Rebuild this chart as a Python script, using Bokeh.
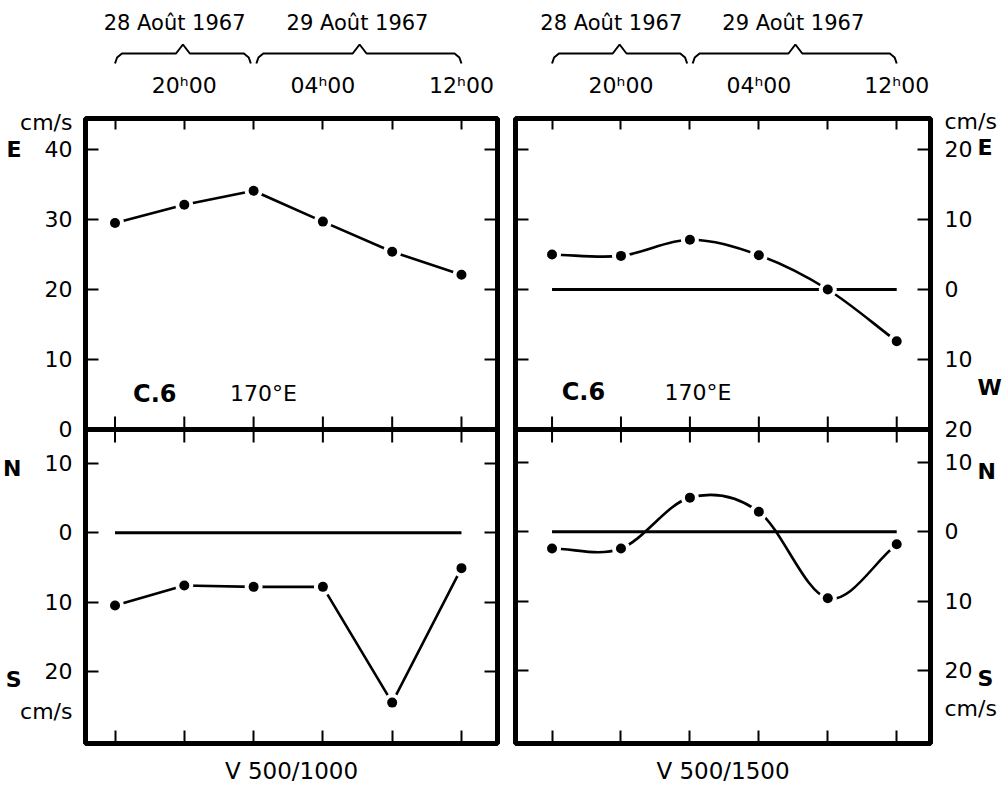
from bokeh.plotting import figure
from bokeh.layouts import gridplot
from bokeh.models import Range1d, LinearAxis, FixedTicker, Span
from bokeh.embed import file_html
from bokeh.resources import INLINE
from bokeh.core.properties import value

# ---------------- data ----------------
sample_idx = [0, 1, 2, 3, 4, 5]          # 16h, 20h, 00h, 04h, 08h, 12h (28-29 Aug 1967)
hour_labels = {1: "20ʰ00", 3: "04ʰ00", 5: "12ʰ00"}
day_names = ["28 Août 1967", "29 Août 1967"]
day_start = [0.0, 2.04]
day_end = [1.96, 5.0]
day_peak = [0.98, 3.53]
day_text_x = [0.86, 3.5]

v1000_east = [29.5, 32.1, 34.1, 29.7, 25.4, 22.1]
v1000_north = [-10.5, -7.6, -7.8, -7.8, -24.5, -5.1]
v1500_east = [5.0, 4.8, 7.1, 4.9, 0.0, -7.4]
v1500_north = [-2.4, -2.4, 4.95, 2.9, -9.6, -1.8]

east_ticks_1000 = [0, 10, 20, 30, 40]
east_ticks_1500 = [-20, -10, 0, 10, 20]
north_ticks = [-20, -10, 0, 10]

station = "C.6"
longitude = "170°E"
titles = ["V 500/1000", "V 500/1500"]
unit = "cm/s"

FONT = "DejaVu Sans"

# visible limits of each sub-panel (east: upper box, north: lower box)
east_lim = [(0.0, 44.43), (-20.0, 24.43)]
north_lim = [(-30.4, 14.9), (-30.6, 14.8)]
x_lim = [(-0.426, 5.52), (-0.53, 5.49)]
TOP_H, BOT_H = 311, 314
HEAD_H = 69
TOP_BORDER = 48

# side captions: (text, component, value, bold)
side_left = [(unit, "e", 43.9, False), ("E", "e", 40.0, True),
             ("N", "n", 9.3, True), ("S", "n", -21.1, True), (unit, "n", -25.8, False)]
side_right = [(unit, "e", 24.0, False), ("E", "e", 20.3, True), ("W", "e", -14.0, True),
              ("N", "n", 8.7, True), ("S", "n", -21.2, True), (unit, "n", -25.5, False)]


def tick_axis(ticks, tick_in, range_name="default"):
    ax = LinearAxis(ticker=FixedTicker(ticks=ticks, minor_ticks=[]))
    if range_name != "default":
        ax.y_range_name = range_name
    ax.axis_line_color = None
    ax.major_tick_in = tick_in
    ax.major_tick_out = 0
    ax.major_tick_line_width = 2
    ax.major_tick_line_color = "black"
    ax.minor_tick_line_color = None
    ax.major_label_text_font_size = "0px"
    ax.major_label_text_color = None
    ax.major_label_standoff = 0
    return ax


def label_axis(ticks, labels, standoff, size="22px", bold=False):
    ax = LinearAxis(ticker=FixedTicker(ticks=ticks, minor_ticks=[]))
    ax.axis_line_color = None
    ax.major_tick_line_color = None
    ax.minor_tick_line_color = None
    ax.major_tick_in = 0
    ax.major_tick_out = 0
    ax.major_label_overrides = dict(zip(ticks, labels))
    ax.major_label_text_font = FONT
    ax.major_label_text_font_size = size
    ax.major_label_text_font_style = "bold" if bold else "normal"
    ax.major_label_text_color = "black"
    ax.major_label_standoff = standoff
    return ax


def bezier_parts(xs, ys):
    n = len(xs)
    mx, my = [], []
    for i in range(n):
        a, b = max(i - 1, 0), min(i + 1, n - 1)
        mx.append((xs[b] - xs[a]) / (b - a))
        my.append((ys[b] - ys[a]) / (b - a))
    d = dict(x0=[], y0=[], x1=[], y1=[], cx0=[], cy0=[], cx1=[], cy1=[])
    for i in range(n - 1):
        d["x0"].append(xs[i]); d["y0"].append(ys[i])
        d["x1"].append(xs[i + 1]); d["y1"].append(ys[i + 1])
        d["cx0"].append(xs[i] + mx[i] / 3); d["cy0"].append(ys[i] + my[i] / 3)
        d["cx1"].append(xs[i + 1] - mx[i + 1] / 3); d["cy1"].append(ys[i + 1] - my[i + 1] / 3)
    return d


def draw_series(p, xs, ys, smooth, zero_line, rn="default"):
    kw = {} if rn == "default" else {"y_range_name": rn}
    if zero_line:
        p.line([xs[0], xs[-1]], [0, 0], line_color="black", line_width=3, **kw)
    if smooth:
        p.bezier(**bezier_parts(xs, ys), line_color="black", line_width=2.6, **kw)
    else:
        p.line(xs, ys, line_color="black", line_width=2.6, **kw)
    p.scatter(xs, ys, size=18, fill_color="white", line_color=None, **kw)
    p.scatter(xs, ys, size=10, fill_color="black", line_color=None, **kw)


header_row, panel_row = [], []
east_data = [v1000_east, v1500_east]
north_data = [v1000_north, v1500_north]
east_ticks = [east_ticks_1000, east_ticks_1500]
smooth_flags = [False, True]

for c in range(2):
    if c == 0:
        bl, br, fw = 75, 9, 412
    else:
        bl, br, fw = 9, 72, 415
    xr = Range1d(*x_lim[c])
    e_lo, e_hi = east_lim[c]
    n_lo, n_hi = north_lim[c]
    e_full = (e_lo - (e_hi - e_lo) * BOT_H / TOP_H, e_hi)
    n_full = (n_lo, n_hi + (n_hi - n_lo) * TOP_H / BOT_H)

    def n2e(v):
        f = (v - n_full[0]) / (n_full[1] - n_full[0])
        return e_full[0] + f * (e_full[1] - e_full[0])

    # ---- header : day braces ----
    h = figure(x_range=xr, y_range=Range1d(0, HEAD_H), frame_width=fw, frame_height=HEAD_H,
               min_border_left=bl, min_border_right=br, min_border_top=0, min_border_bottom=0,
               x_axis_location=None, y_axis_location=None, toolbar_location=None,
               output_backend="svg", outline_line_color=None)
    h.xgrid.visible = False
    h.ygrid.visible = False
    for s, e, pk in zip(day_start, day_end, day_peak):
        h.line([s, s + 0.03, s + 0.1, pk - 0.1, pk, pk + 0.1, e - 0.1, e - 0.03, e],
               [6, 12, 16, 16, 25, 16, 16, 12, 6], line_color="black", line_width=2)
    h.text(x=day_text_x, y=[47, 47], text=day_names, text_font=value(FONT),
           text_font_size="21px", text_align="center", text_baseline="middle", text_color="black")
    header_row.append(h)

    # ---- panel : east (upper box) + north (lower box) ----
    p = figure(x_range=xr, y_range=Range1d(*e_full), frame_width=fw, frame_height=TOP_H + BOT_H,
               min_border_left=bl, min_border_right=br, min_border_top=TOP_BORDER, min_border_bottom=41,
               x_axis_location=None, y_axis_location=None, toolbar_location=None,
               output_backend="svg", outline_line_color="black", outline_line_width=5)
    p.extra_y_ranges = {"north": Range1d(*n_full)}
    p.xgrid.visible = False
    p.ygrid.visible = False

    # time axis on top (inward ticks + hour labels)
    top_ax = tick_axis(sample_idx, 11)
    top_ax.major_label_overrides = {i: hour_labels.get(i, "") for i in sample_idx}
    top_ax.major_label_text_font = FONT
    top_ax.major_label_text_font_size = "22px"
    top_ax.major_label_text_color = "black"
    top_ax.major_label_standoff = 21
    p.add_layout(top_ax, "above")
    bot_ax = tick_axis(sample_idx, 13)
    bot_ax.axis_label = titles[c]
    bot_ax.axis_label_text_font = FONT
    bot_ax.axis_label_text_font_size = "23px"
    bot_ax.axis_label_text_font_style = "normal"
    bot_ax.axis_label_text_color = "black"
    bot_ax.axis_label_standoff = 14
    p.add_layout(bot_ax, "below")

    # inward ticks on both vertical sides
    for side in ("left", "right"):
        p.add_layout(tick_axis(east_ticks[c], 13), side)
        p.add_layout(tick_axis(north_ticks, 13, "north"), side)

    # numeric labels + unit, then compass letters
    num_ticks = list(east_ticks[c]) + [n2e(v) for v in north_ticks]
    num_text = [str(abs(v)) for v in east_ticks[c]] + [str(abs(v)) for v in north_ticks]
    sides = side_left if c == 0 else side_right
    unit_pos = [(v if comp == "e" else n2e(v)) for t, comp, v, b in sides if not b]
    unit_txt = [t for t, comp, v, b in sides if not b]
    let_pos = [(v if comp == "e" else n2e(v)) for t, comp, v, b in sides if b]
    let_txt = [t for t, comp, v, b in sides if b]
    num_ax = label_axis(num_ticks + unit_pos, num_text + unit_txt, 13 if c == 0 else 14)
    let_ax = label_axis(let_pos, let_txt, -4 if c == 0 else -22, "22px", True)
    side = "left" if c == 0 else "right"
    p.add_layout(num_ax, side)
    p.add_layout(let_ax, side)

    # divider between the two boxes, with crossing ticks
    p.add_layout(Span(location=e_lo, dimension="width", line_color="black", line_width=5))
    dt = 13 / (TOP_H / (e_hi - e_lo))
    p.segment(x0=sample_idx, x1=sample_idx, y0=[e_lo - dt] * 6, y1=[e_lo + dt] * 6,
              line_color="black", line_width=2)

    draw_series(p, sample_idx, east_data[c], smooth_flags[c], zero_line=(c == 1))
    draw_series(p, sample_idx, north_data[c], smooth_flags[c], zero_line=True, rn="north")

    ty = 5.1 if c == 0 else -14.7
    p.text(x=[0.26 if c == 0 else 0.14], y=[ty], text=[station], text_font=value(FONT),
           text_font_style="bold", text_font_size="24px", text_baseline="middle", text_color="black")
    p.text(x=[1.66 if c == 0 else 1.63], y=[ty], text=[longitude], text_font=value(FONT),
           text_font_size="22px", text_baseline="middle", text_color="black")
    panel_row.append(p)

grid = gridplot([header_row, panel_row], toolbar_location=None)
open("out.html", "w").write(file_html(grid, INLINE))
